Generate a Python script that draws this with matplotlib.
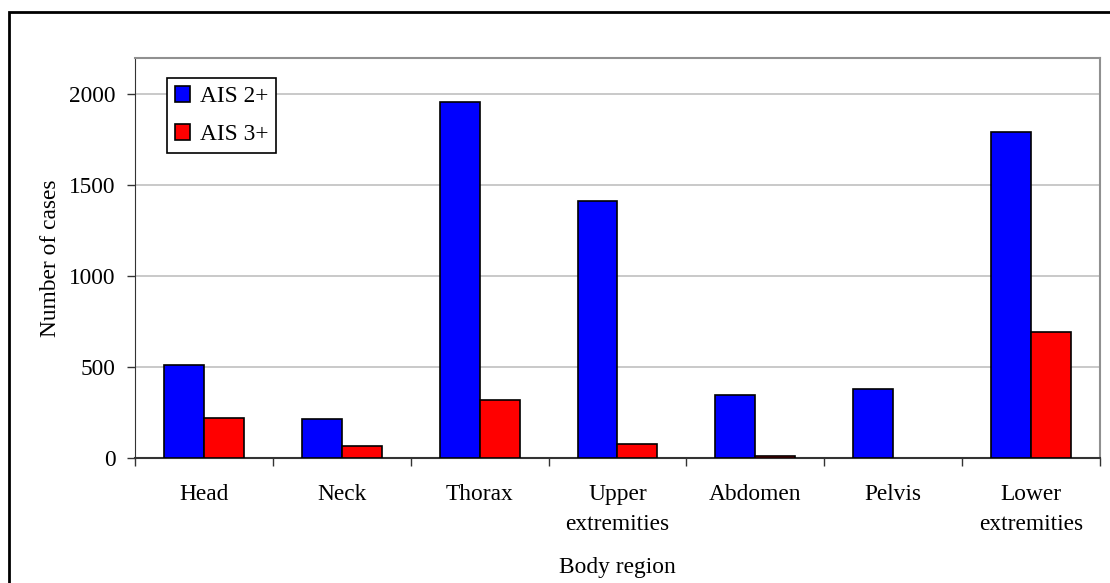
"""
Injury counts by body region, AIS 2+ vs AIS 3+
"""

import matplotlib as mpl
import matplotlib.pyplot as plt
import numpy as np
from matplotlib.patches import Rectangle

mpl.rcParams["font.family"] = "serif"
mpl.rcParams["font.serif"] = ["Liberation Serif", "DejaVu Serif"]

REGIONS = ["Head", "Neck", "Thorax", "Upper\nextremities", "Abdomen", "Pelvis", "Lower\nextremities"]
AIS2 = [510, 212, 1960, 1415, 348, 377, 1795]
AIS3 = [220, 66, 318, 75, 12, 0, 695]
SERIES = ["AIS 2+", "AIS 3+"]
YTICKS = [0, 500, 1000, 1500, 2000]

COLORS = ["#0000FF", "#FF0000"]
WIDTH = 0.29
FONT_SIZE = 16.8

fig = plt.figure(figsize=(11.1, 5.83), dpi=100)
ax = fig.add_axes([0.1216, 0.2144, 0.8694, 0.6861])

x = np.arange(len(REGIONS))
for vals, off, color, name in zip([AIS2, AIS3], [-WIDTH / 2, WIDTH / 2], COLORS, SERIES):
    bars = ax.bar(x + off, vals, width=WIDTH, color=color, ec="k", lw=1.2, label=name, zorder=3)
    for b in bars:
        if b.get_height() == 0:
            b.set_edgecolor("none")

ax.set_xlim(-0.5, len(REGIONS) - 0.5)
ax.set_ylim(0, 2200)
ax.set_yticks(YTICKS)
ax.set_yticklabels([str(v) for v in YTICKS], fontsize=FONT_SIZE)
ax.set_xticks(x)
ax.set_xticklabels(REGIONS, fontsize=FONT_SIZE, linespacing=1.55)
ax.set_xticks(np.arange(len(REGIONS) + 1) - 0.5, minor=True)
ax.tick_params(axis="x", which="major", length=0, pad=19)
ax.tick_params(axis="x", which="minor", length=6, width=1, direction="out", color="#333333")
ax.tick_params(axis="y", length=6, width=1, direction="out", color="#333333", pad=8)

ax.grid(axis="y", color="#C0C0C0", lw=1.2, zorder=0)
ax.set_axisbelow(True)
for side in ["top", "right"]:
    ax.spines[side].set_color("#909090")
    ax.spines[side].set_linewidth(1.5)
ax.spines["left"].set_color("#333333")
ax.spines["bottom"].set_color("#333333")
ax.spines["bottom"].set_linewidth(1.5)

ax.set_ylabel("Number of cases", fontsize=FONT_SIZE, labelpad=6)
ax.set_xlabel("Body region", fontsize=FONT_SIZE, labelpad=16)

leg = ax.legend(loc="upper left", bbox_to_anchor=(0.0333, 0.95), fontsize=FONT_SIZE,
                frameon=True, fancybox=False, edgecolor="k", framealpha=1,
                handlelength=0.65, handleheight=0.65, handletextpad=0.4,
                borderpad=0.35, labelspacing=0.72, borderaxespad=0)
leg.get_frame().set_linewidth(1.2)

# outer chart border
fig.patches.append(Rectangle((9 / 1110, -0.1), 1.2, 1 - 12 / 583 + 0.1,
                             transform=fig.transFigure, fill=False, ec="k", lw=2))

plt.savefig("out.png", dpi=100)
